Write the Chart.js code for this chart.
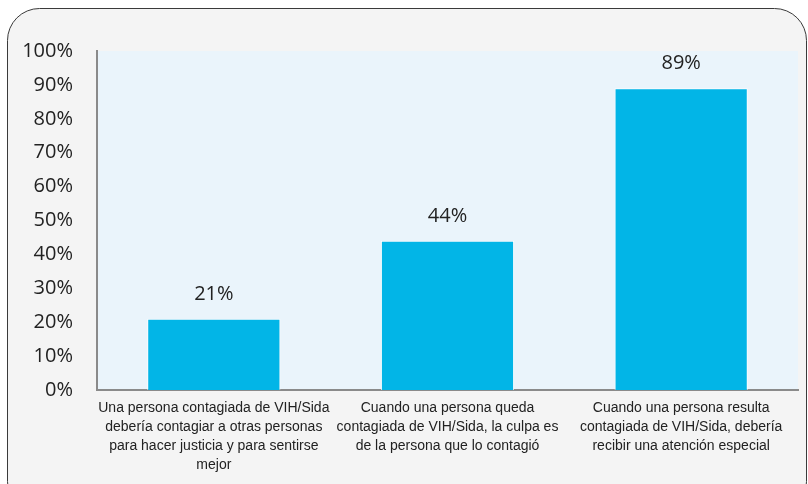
<!DOCTYPE html>
<html><head><meta charset="utf-8">
<script src="https://cdn.jsdelivr.net/npm/chart.js@4/dist/chart.umd.min.js"></script>
<style>html,body{margin:0;padding:0;background:#fff;}#wrap{width:808px;height:484px;}</style>
</head><body><div id="wrap"><canvas id="c" width="808" height="484"></canvas></div>
<script>
const categories = [
  ["Una persona contagiada de VIH/Sida","debería contagiar a otras personas","para hacer justicia y para sentirse","mejor"],
  ["Cuando una persona queda","contagiada de VIH/Sida, la culpa es","de la persona que lo contagió"],
  ["Cuando una persona resulta","contagiada de VIH/Sida, debería","recibir una atención especial"]
];
const values = [21, 44, 89];
const yTicks = [0,10,20,30,40,50,60,70,80,90,100];

const bgPlugin = {
  id: 'bg',
  beforeDraw(chart) {
    const ctx = chart.ctx, a = chart.chartArea;
    ctx.save();
    ctx.fillStyle = '#ffffff';
    ctx.fillRect(0,0,chart.width,chart.height);
    ctx.beginPath();
    ctx.roundRect(7.5, 8.5, 799, 505, 32);
    ctx.fillStyle = '#f4f4f4';
    ctx.fill();
    ctx.strokeStyle = '#3a3a3a';
    ctx.lineWidth = 1;
    ctx.stroke();
    ctx.fillStyle = '#eaf4fb';
    ctx.fillRect(a.left, a.top, a.right - a.left, a.bottom - a.top);
    ctx.restore();
  },
  afterDatasetsDraw(chart) {
    const ctx = chart.ctx;
    const meta = chart.getDatasetMeta(0);
    ctx.save();
    ctx.font = '20px "Open Sans"';
    ctx.fillStyle = '#222222';
    ctx.textAlign = 'center';
    ctx.textBaseline = 'middle';
    meta.data.forEach((bar, i) => {
      ctx.fillText(values[i] + '%', bar.x, bar.y - 25);
    });
    ctx.restore();
  }
};

new Chart(document.getElementById('c'), {
  type: 'bar',
  data: {
    labels: categories,
    datasets: [{
      data: values,
      backgroundColor: '#02b5e7',
      borderColor: 'rgba(255,255,255,0.85)',
      borderWidth: 1,
      categoryPercentage: 1,
      barPercentage: 0.57
    }]
  },
  options: {
    responsive: false,
    animation: false,
    devicePixelRatio: 1,
    layout: { padding: { left: 0, right: 10, top: 51, bottom: 0 } },
    plugins: { legend: { display: false }, tooltip: { enabled: false } },
    scales: {
      y: {
        min: 0, max: 100,
        afterBuildTicks(scale) { scale.ticks = yTicks.map(v => ({ value: v })); },
        afterFit(scale) { scale.width = 97; },
        grid: { display: false, drawTicks: false },
        border: { display: true, color: '#8a8a8a', width: 2 },
        ticks: {
          padding: 24,
          color: '#222222',
          font: { family: '"Open Sans"', size: 20 },
          callback: v => v + '%'
        }
      },
      x: {
        afterFit(scale) { scale.height = 94; },
        grid: { display: false, drawTicks: false },
        border: { display: true, color: '#8a8a8a', width: 2 },
        ticks: {
          padding: 9,
          maxRotation: 0,
          autoSkip: false,
          color: '#222222',
          font: { family: '"Liberation Sans Narrow", "Arial Narrow", "Liberation Sans"', size: 14, lineHeight: 1.36 }
        }
      }
    }
  },
  plugins: [bgPlugin]
});
</script>
</body></html>
